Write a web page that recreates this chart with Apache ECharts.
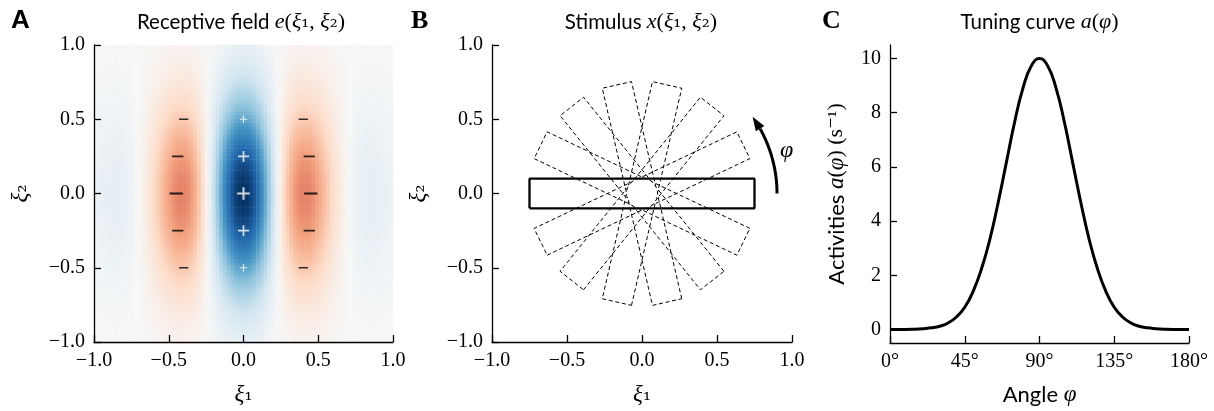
<!DOCTYPE html>
<html><head><meta charset="utf-8">
<script src="https://cdn.jsdelivr.net/npm/echarts@6/dist/echarts.min.js"></script>
<style>html,body{margin:0;padding:0;background:#fff}#c{width:1214px;height:411px}</style>
</head><body><div id="c"></div>
<script>
// ---------- Panel A: receptive field (cross-section along xi1 at xi2=0, envelope along xi2), xi from -1 to 1, step 0.025
const fieldProfileX = [0.062,0.070,0.078,0.085,0.090,0.095,0.095,0.090,0.080,0.065,0.040,0.008,-0.024,-0.060,-0.102,-0.150,-0.203,-0.260,-0.315,-0.369,-0.417,-0.457,-0.486,-0.501,-0.498,-0.475,-0.431,-0.366,-0.280,-0.175,-0.053,0.082,0.225,0.371,0.514,0.648,0.766,0.865,0.939,0.984,
1.000,
0.984,0.939,0.865,0.766,0.648,0.514,0.371,0.225,0.082,-0.053,-0.175,-0.280,-0.366,-0.431,-0.475,-0.498,-0.501,-0.486,-0.457,-0.417,-0.369,-0.315,-0.260,-0.203,-0.150,-0.102,-0.060,-0.024,0.008,0.040,0.065,0.080,0.090,0.095,0.095,0.090,0.085,0.078,0.070,0.062];
const fieldEnvelopeY = [0.085,0.096,0.108,0.121,0.135,0.151,0.168,0.186,0.206,0.227,0.249,0.273,0.298,0.325,0.352,0.381,0.411,0.442,0.474,0.506,0.539,0.573,0.607,0.640,0.674,0.707,0.739,0.770,0.801,0.830,0.857,0.882,0.906,0.927,0.946,0.962,0.976,0.986,0.994,0.998,
1.000,
0.998,0.994,0.986,0.976,0.962,0.946,0.927,0.906,0.882,0.857,0.830,0.801,0.770,0.739,0.707,0.674,0.640,0.607,0.573,0.539,0.506,0.474,0.442,0.411,0.381,0.352,0.325,0.298,0.273,0.249,0.227,0.206,0.186,0.168,0.151,0.135,0.121,0.108,0.096,0.085];
const plusMarks = [[0,0.5],[0,0.25],[0,0],[0,-0.25],[0,-0.5]];
const minusMarks = [[-0.40,0.5],[-0.44,0.25],[-0.45,0],[-0.44,-0.25],[-0.40,-0.5],
                    [0.40,0.5],[0.44,0.25],[0.45,0],[0.44,-0.25],[0.40,-0.5]];
const xiTicks = [-1, -0.5, 0, 0.5, 1];

// ---------- Panel B: stimulus
const stimulusAngles = [25.7, 51.4, 77.1, 102.9, 128.6, 154.3];
const mainAngle = 0;
const barHalfLength = 0.75, barHalfWidth = 0.1, centerRadius = 0.1;
const arrowRadius = 0.9, arrowStartDeg = 0, arrowEndDeg = 35;

// ---------- Panel C: tuning curve
const tuningAngles = [0,5,10,15,20,25,30,35,40,45,50,55,60,65,70,75,80,85,90,95,100,105,110,115,120,125,130,135,140,145,150,155,160,165,170,175,180];
const tuningActivity = [0,0,0,0.01,0.03,0.06,0.12,0.24,0.46,0.82,1.40,2.22,3.30,4.65,6.15,7.65,8.90,9.72,10,9.72,8.90,7.65,6.15,4.65,3.30,2.22,1.40,0.82,0.46,0.24,0.12,0.06,0.03,0.01,0,0,0];
const angleTicks = [0,45,90,135,180];
const activityTicks = [0,2,4,6,8,10];

// ---------- helpers
const SERIF = '"Liberation Serif", "DejaVu Serif", serif';
const SUBF = '"DejaVu Serif", serif';
const SANS = 'Lato, "Open Sans", sans-serif';
const fmtXi = v => (v < 0 ? '\u2212' : '') + Math.abs(v).toFixed(1);
const axisLineStyle = {color:'#000', width:1.3};
function valueAxis(gridIndex, extra) {
  return Object.assign({
    type:'value', gridIndex, z:10,
    axisLine:{show:true, onZero:false, lineStyle:axisLineStyle},
    axisTick:{show:true, inside:true, length:7, lineStyle:axisLineStyle},
    axisLabel:{color:'#000', fontFamily:SERIF, fontSize:20, margin:9},
    splitLine:{show:false}
  }, extra);
}
function rectPath(angleDeg) {
  const t = angleDeg*Math.PI/180, c = Math.cos(t), s = Math.sin(t);
  const L = barHalfLength, W = barHalfWidth;
  return [[-L,-W],[L,-W],[L,W],[-L,W],[-L,-W]].map(([u,v]) => [u*c - v*s, u*s + v*c]);
}
const fieldIndex = fieldProfileX.map((_, i) => i);
const heatData = [];
fieldProfileX.forEach((fx, i) => fieldEnvelopeY.forEach((gy, j) => heatData.push([i, j, +(fx*gy).toFixed(4)])));

const plusSize = a => a < 0.1 ? [12.7,12.7] : (a < 0.4 ? [11,11] : [7.5,7.5]);
const minusSize = a => a < 0.1 ? [13.3,2.1] : (a < 0.4 ? [11.3,1.8] : [9.3,1.5]);

const RdBu = ['#67001f','#b2182b','#d6604d','#f4a582','#fddbc7','#f7f7f7','#d1e5f0','#92c5de','#4393c3','#2166ac','#053061'];

const gridA = {left:94, top:45, width:299, height:299};
const gridB = {left:492, top:45, width:300, height:299};
const gridC = {left:890, top:45, width:299, height:299};

const nameRich = {
  i:{fontFamily:SERIF, fontStyle:'italic', fontSize:23, color:'#000'},
  n:{fontFamily:SERIF, fontSize:22, color:'#000'},
  b:{fontFamily:SUBF, fontSize:20, color:'#000'},
  s:{fontFamily:SANS, fontSize:22, color:'#000'}
};

const xiAxisX = (g) => valueAxis(g, {min:-1, max:1, interval:0.5, axisLabel:{color:'#000', fontFamily:SERIF, fontSize:20, margin:9, formatter:fmtXi},
  name:'{i|ξ}{b|₁}', nameLocation:'middle', nameGap:41, nameTextStyle:{rich:nameRich}});
const xiAxisY = (g) => valueAxis(g, {min:-1, max:1, interval:0.5, axisLabel:{color:'#000', fontFamily:SERIF, fontSize:20, margin:9, formatter:fmtXi},
  name:'{i|ξ}{b|₂}', nameLocation:'middle', nameGap:62, nameTextStyle:{rich:nameRich}});

const titleRich = {
  s:{fontFamily:SANS, fontSize:20.5, color:'#000'},
  m:{fontFamily:SERIF, fontStyle:'italic', fontSize:22, color:'#000'},
  r:{fontFamily:SERIF, fontSize:22, color:'#000'},
  b:{fontFamily:SUBF, fontSize:20, color:'#000'}
};
function titleText(x, text) {
  return {type:'text', x, y:22, style:{text, rich:titleRich, align:'center', verticalAlign:'middle'}};
}
function letter(x, text, font) {
  return {type:'text', x, y:21, style:{text, fontFamily:font, fontWeight:'bold', fontSize:26, fill:'#000', align:'left', verticalAlign:'middle'}};
}

const series = [];
series.push({type:'heatmap', xAxisIndex:3, yAxisIndex:3, data:heatData, progressive:0, emphasis:{disabled:true}, silent:true});
series.push({type:'scatter', xAxisIndex:0, yAxisIndex:0, z:5, silent:true, data:plusMarks,
  symbol:'path://M0,4.2H10V5.8H0Z M4.2,0H5.8V10H4.2Z', symbolSize:v => plusSize(Math.abs(v[1])),
  itemStyle:{color:'#fff'}});
series.push({type:'scatter', xAxisIndex:0, yAxisIndex:0, z:5, silent:true, data:minusMarks,
  symbol:'path://M0,0H10V1H0Z', symbolSize:v => minusSize(Math.abs(v[1])),
  itemStyle:{color:'#000'}});
stimulusAngles.forEach(a => series.push({type:'line', xAxisIndex:1, yAxisIndex:1, data:rectPath(a), symbol:'none', silent:true, z:2,
  lineStyle:{color:'#000', width:1, type:[4,2.7]}}));
series.push({type:'custom', xAxisIndex:1, yAxisIndex:1, z:3, silent:true, data:[[0,0]],
  renderItem:(p, api) => {
    const c = api.coord([0,0]);
    const r = Math.abs(api.coord([centerRadius,0])[0] - c[0]);
    return {type:'circle', shape:{cx:c[0], cy:c[1], r}, style:{fill:'#fff', stroke:null}};
  }});
series.push({type:'line', xAxisIndex:1, yAxisIndex:1, data:rectPath(mainAngle), symbol:'none', silent:true, z:4,
  lineStyle:{color:'#000', width:2.3}});
series.push({type:'custom', xAxisIndex:1, yAxisIndex:1, z:4, silent:true, data:[[0,0]],
  renderItem:(p, api) => {
    const P = deg => api.coord([arrowRadius*Math.cos(deg*Math.PI/180), arrowRadius*Math.sin(deg*Math.PI/180)]);
    const headDeg = 6;
    const pts = [];
    for (let a = arrowStartDeg; a <= arrowEndDeg - headDeg + 0.01; a += 0.5) pts.push(P(a));
    const tip = P(arrowEndDeg), base = P(arrowEndDeg - headDeg);
    const dx = tip[0]-base[0], dy = tip[1]-base[1], len = Math.hypot(dx,dy);
    const nx = -dy/len*5, ny = dx/len*5;
    const lp = api.coord([0.965,0.29]);
    return {type:'group', children:[
      {type:'polyline', shape:{points:pts}, style:{stroke:'#000', lineWidth:3, fill:null}},
      {type:'polygon', shape:{points:[tip,[base[0]+nx, base[1]+ny],[base[0]-nx, base[1]-ny]]}, style:{fill:'#000'}},
      {type:'text', x:lp[0], y:lp[1],
       style:{text:'φ', fontFamily:SERIF, fontStyle:'italic', fontSize:24, fill:'#000', align:'center', verticalAlign:'middle'}}
    ]};
  }});
series.push({type:'line', xAxisIndex:2, yAxisIndex:2, data:tuningAngles.map((a,i) => [a, tuningActivity[i]]),
  symbol:'none', smooth:true, silent:true, lineStyle:{color:'#000', width:3}});

const option = {
  animation:false,
  backgroundColor:'#fff',
  grid:[gridA, gridB, gridC, gridA],
  visualMap:[{type:'continuous', show:false, min:-1, max:1, dimension:2, seriesIndex:0, inRange:{color:RdBu}}],
  xAxis:[
    xiAxisX(0), xiAxisX(1),
    valueAxis(2, {min:0, max:180, interval:45,
      axisLabel:{color:'#000', fontFamily:SERIF, fontSize:20, margin:9, formatter:'{value}°'},
      name:'{s|Angle }{i|φ}', nameLocation:'middle', nameGap:40, nameTextStyle:{rich:nameRich}}),
    {type:'category', gridIndex:3, data:fieldIndex, show:false, boundaryGap:true}
  ],
  yAxis:[
    xiAxisY(0), xiAxisY(1),
    valueAxis(2, {min:-0.5, max:10.5,
      axisTick:{show:true, inside:true, length:7, lineStyle:axisLineStyle, customValues:activityTicks},
      axisLabel:{color:'#000', fontFamily:SERIF, fontSize:20, margin:9, customValues:activityTicks},
      name:'{s|Activities }{i|a}{n|(}{i|φ}{n|) (s⁻¹)}', nameLocation:'middle', nameGap:42, nameTextStyle:{rich:nameRich}}),
    {type:'category', gridIndex:3, data:fieldIndex, show:false, boundaryGap:true}
  ],
  graphic:[
    letter(11, 'A', '"Liberation Sans", sans-serif'),
    letter(411, 'B', SERIF),
    letter(822, 'C', SERIF),
    titleText(241, '{s|Receptive field }{m|e}{r|(}{m|ξ}{b|₁}{r|, }{m|ξ}{b|₂}{r|)}'),
    titleText(641, '{s|Stimulus }{m|x}{r|(}{m|ξ}{b|₁}{r|, }{m|ξ}{b|₂}{r|)}'),
    titleText(1039.5, '{s|Tuning curve }{m|a}{r|(}{m|φ}{r|)}')
  ],
  series
};
const chart = echarts.init(document.getElementById('c'), null, {renderer:'canvas'});
chart.setOption(option);
</script>
</body></html>
